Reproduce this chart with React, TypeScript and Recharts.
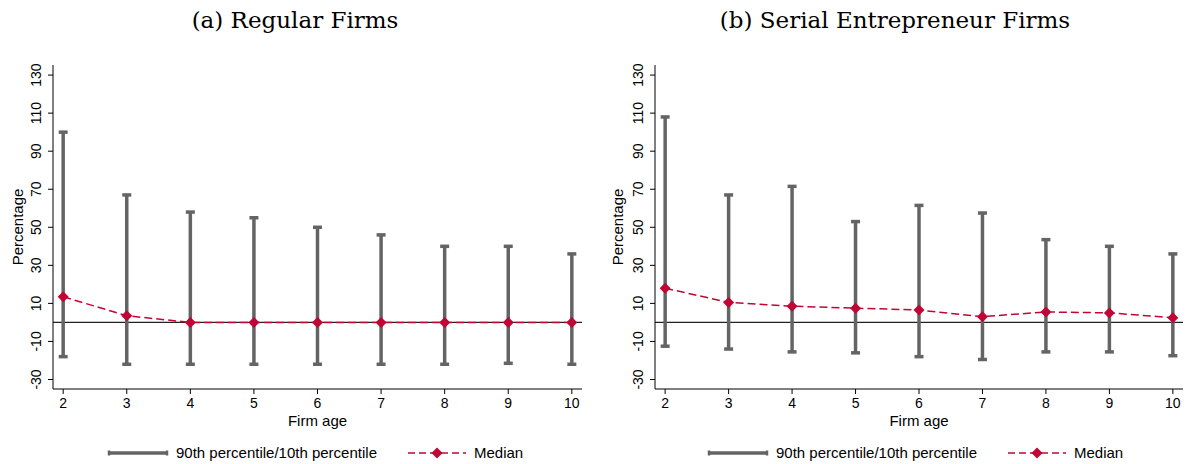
import React from 'react'
import { ComposedChart, Line, Scatter, ErrorBar, XAxis, YAxis, ReferenceLine } from 'recharts'

const ages = [2, 3, 4, 5, 6, 7, 8, 9, 10]
const yTicks = [-30, -10, 10, 30, 50, 70, 90, 110, 130]

const regularP90 = [100, 67, 58, 55, 50, 46, 40, 40, 36]
const regularP10 = [-18, -22, -22, -22, -22, -22, -22, -21.5, -22]
const regularMedian = [13.5, 3.5, 0, 0, 0, 0, 0, 0, 0]

const serialP90 = [108, 67, 71.5, 53, 61.5, 57.5, 43.5, 40, 36]
const serialP10 = [-12.5, -14, -15.5, -16, -18, -19.5, -15.5, -15.5, -17.5]
const serialMedian = [18, 10.5, 8.5, 7.5, 6.5, 3, 5.5, 5, 2.5]

const GRAY = '#646464'
const RED = '#C10534'
const SANS = '"Liberation Sans", Arial, sans-serif'

function buildRows(p10: number[], median: number[], p90: number[]) {
  return ages.map((age, i) => ({
    age,
    median: median[i],
    err: [median[i] - p10[i], p90[i] - median[i]],
  }))
}

function Diamond(props: any) {
  const { cx, cy } = props
  if (cx == null || cy == null) return <g />
  const r = 5.5
  return (
    <polygon
      points={`${cx},${cy - r} ${cx + r},${cy} ${cx},${cy + r} ${cx - r},${cy}`}
      fill={RED}
    />
  )
}

function RotatedTick(props: any) {
  const { x, y, payload } = props
  return (
    <text
      x={x}
      y={y}
      transform={`rotate(-90 ${x} ${y})`}
      textAnchor="middle"
      fontSize={14}
      fontFamily={SANS}
      fill="#000"
    >
      {payload.value}
    </text>
  )
}

function Legend() {
  return (
    <div style={{ position: 'absolute', left: 0, top: 443, width: 595, height: 20, fontFamily: SANS, fontSize: 15, color: '#000' }}>
      <svg width={64} height={20} style={{ position: 'absolute', left: 106, top: 0 }}>
        <line x1={3} y1={10} x2={61} y2={10} stroke={GRAY} strokeWidth={3.5} />
        <line x1={3} y1={7.5} x2={3} y2={12.5} stroke={GRAY} strokeWidth={2.5} />
        <line x1={61} y1={7.5} x2={61} y2={12.5} stroke={GRAY} strokeWidth={2.5} />
      </svg>
      <span style={{ position: 'absolute', left: 176, top: 1, whiteSpace: 'nowrap', lineHeight: '18px' }}>
        90th percentile/10th percentile
      </span>
      <svg width={60} height={20} style={{ position: 'absolute', left: 407, top: 0 }}>
        <line x1={1} y1={10} x2={59} y2={10} stroke={RED} strokeWidth={1.5} strokeDasharray="7 4" />
        <Diamond cx={30} cy={10} />
      </svg>
      <span style={{ position: 'absolute', left: 474, top: 1, whiteSpace: 'nowrap', lineHeight: '18px' }}>
        Median
      </span>
    </div>
  )
}

interface PanelProps {
  left: number
  width: number
  yAxisWidth: number
  rightMargin: number
  title: string
  titleCenter: number
  p10: number[]
  median: number[]
  p90: number[]
}

function Panel({ left, width, yAxisWidth, rightMargin, title, titleCenter, p10, median, p90 }: PanelProps) {
  const rows = buildRows(p10, median, p90)
  return (
    <div style={{ position: 'absolute', left, top: 0, width, height: 464 }}>
      <div
        style={{
          position: 'absolute', left: titleCenter - 250, width: 500, top: 7, textAlign: 'center',
          fontFamily: '"DejaVu Serif", serif', fontSize: 23, lineHeight: '26px', color: '#000', whiteSpace: 'nowrap',
        }}
      >
        {title}
      </div>
      <div
        style={{
          position: 'absolute', left: 17, top: 227, transform: 'translate(-50%, -50%) rotate(-90deg)',
          fontFamily: SANS, fontSize: 15, lineHeight: 1, whiteSpace: 'nowrap', color: '#000',
        }}
      >
        Percentage
      </div>
      <ComposedChart width={width} height={464} data={rows} margin={{ top: 65, right: rightMargin, bottom: 35, left: 0 }}>
        <XAxis
          dataKey="age"
          type="number"
          domain={[1.84, 10.16]}
          ticks={ages}
          interval={0}
          height={40}
          tickSize={5}
          tickMargin={4}
          stroke="#000"
          tick={{ fontSize: 14, fontFamily: SANS, fill: '#000' }}
          label={{ value: 'Firm age', position: 'insideBottom', offset: 3, fontSize: 15, fontFamily: SANS, fill: '#000' }}
        />
        <YAxis
          type="number"
          domain={[-35, 135.3]}
          ticks={yTicks}
          interval={0}
          width={yAxisWidth}
          tickSize={5}
          tickMargin={7}
          stroke="#000"
          tick={<RotatedTick />}
          allowDataOverflow
        />
        <ReferenceLine y={0} stroke="#222" strokeWidth={1.2} />
        <Scatter dataKey="median" shape={() => <g />} isAnimationActive={false}>
          <ErrorBar dataKey="err" direction="y" width={4.5} stroke={GRAY} strokeWidth={3.5} isAnimationActive={false} />
        </Scatter>
        <Line
          dataKey="median"
          type="linear"
          stroke={RED}
          strokeWidth={1.5}
          strokeDasharray="8 4"
          dot={(p: any) => <Diamond key={`d-${p.index}`} cx={p.cx} cy={p.cy} />}
          activeDot={false}
          isAnimationActive={false}
        />
      </ComposedChart>
      <Legend />
    </div>
  )
}

export default function App() {
  return (
    <div style={{ position: 'absolute', left: 0, top: 0, width: 1190, height: 464, background: '#fff' }}>
      <Panel
        left={0}
        width={595}
        yAxisWidth={53}
        rightMargin={13}
        title="(a) Regular Firms"
        titleCenter={295}
        p10={regularP10}
        median={regularMedian}
        p90={regularP90}
      />
      <Panel
        left={600}
        width={590}
        yAxisWidth={55}
        rightMargin={7}
        title="(b) Serial Entrepreneur Firms"
        titleCenter={295}
        p10={serialP10}
        median={serialMedian}
        p90={serialP90}
      />
    </div>
  )
}
